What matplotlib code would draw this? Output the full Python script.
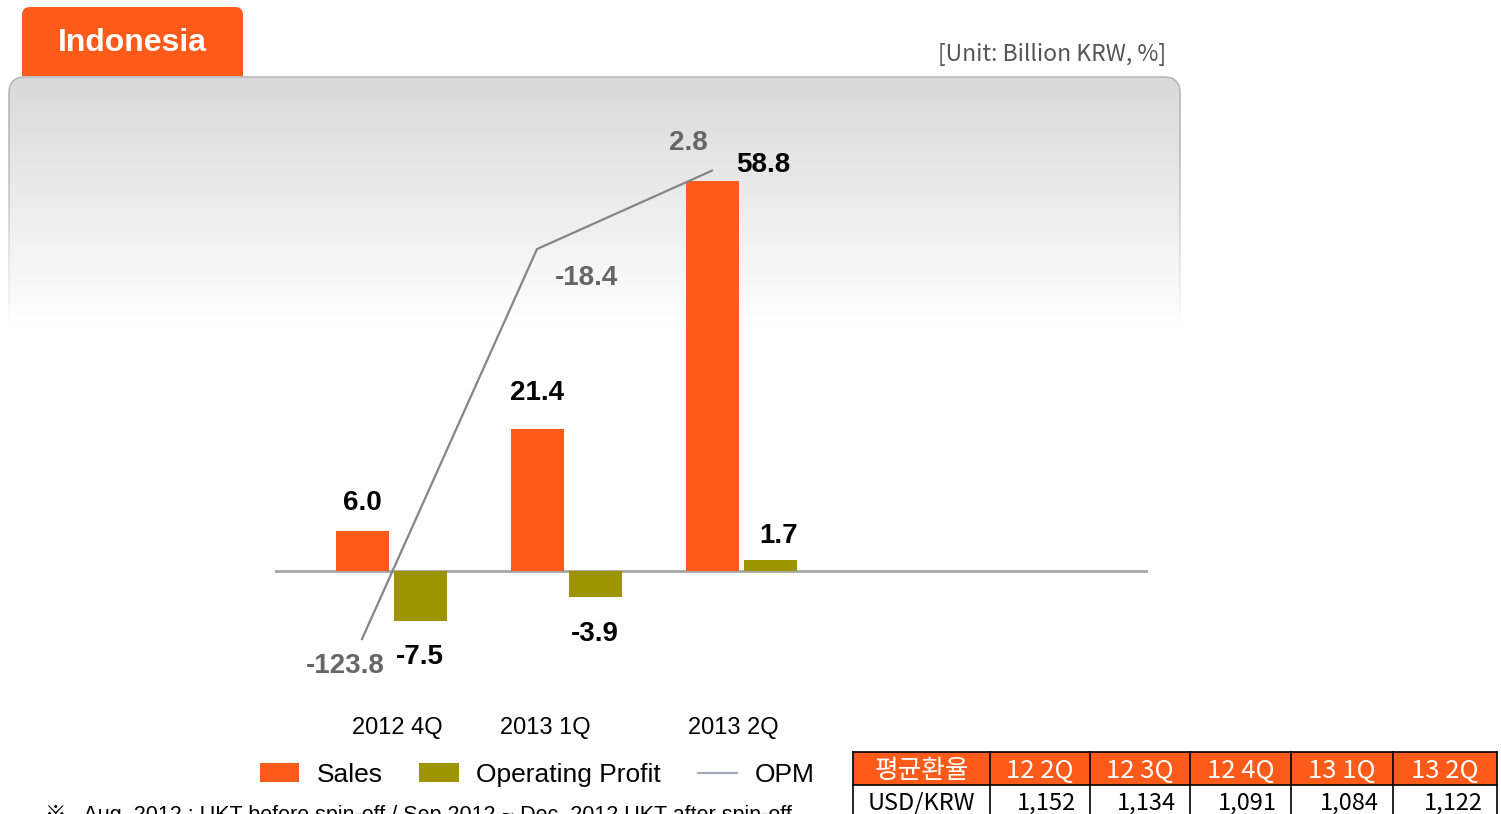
import numpy as np
import matplotlib
matplotlib.use('Agg')
from matplotlib import pyplot as plt
from matplotlib.patches import FancyBboxPatch, Rectangle, Patch
from matplotlib.lines import Line2D
from matplotlib.collections import LineCollection

# data
quarters = ['2012 4Q', '2013 1Q', '2013 2Q']
sales = [6.0, 21.4, 58.8]
op_profit = [-7.5, -3.9, 1.7]
opm = [-123.8, -18.4, 2.8]

table_header = ['평균환율', '12 2Q', '12 3Q', '12 4Q', '13 1Q', '13 2Q']
table_row = ['USD/KRW', '1,152', '1,134', '1,091', '1,084', '1,122']

orange = '#FE5A19'
olive = '#9D9400'
W, H = 1501, 814
fig = plt.figure(figsize=(W / 100, H / 100), dpi=100)

# background / decoration layer in pixel coords
bg = fig.add_axes([0, 0, 1, 1])
bg.set_xlim(0, W)
bg.set_ylim(H, 0)
bg.axis('off')

# panel with grey gradient on top
panel = FancyBboxPatch((9, 77), 1171, 700, boxstyle='round,pad=0,rounding_size=16',
                       facecolor='none', edgecolor='none')
bg.add_patch(panel)
grad = np.linspace(0, 1, 256)[:, None]
vals = 0.85 + 0.15 * grad
img = np.dstack([vals, vals, vals, np.ones_like(vals)])
im = bg.imshow(np.repeat(img, 2, axis=1), extent=(9, 1180, 325, 77), aspect='auto',
               interpolation='bilinear', zorder=0)
im.set_clip_path(panel)
bg.add_patch(Rectangle((0, 325), 1190, 500, facecolor='white', edgecolor='none', zorder=0.5))

# border: rounded top, sides fading downward
edge = FancyBboxPatch((9, 77), 1171, 700, boxstyle='round,pad=0,rounding_size=16',
                      facecolor='none', edgecolor='#b8b8b8', linewidth=1.2, zorder=1)
bg.add_patch(edge)
edge.set_clip_path(Rectangle((0, 70), 1200, 70, transform=bg.transData))
ys = np.linspace(140, 330, 40)
for xe in (9, 1180):
    segs = [[(xe, ys[j]), (xe, ys[j + 1])] for j in range(len(ys) - 1)]
    alphas = np.linspace(1, 0, len(segs))
    cols = [(0.72, 0.72, 0.72, a) for a in alphas]
    bg.add_collection(LineCollection(segs, colors=cols, linewidths=1.2, zorder=1))

# header tab
bg.add_patch(FancyBboxPatch((22, 7), 221, 68, boxstyle='round,pad=0,rounding_size=8',
                            facecolor=orange, edgecolor='none', zorder=2))
bg.add_patch(Rectangle((22, 40), 221, 36, facecolor=orange, edgecolor='none', zorder=2))
bg.text(132, 43, 'Indonesia', color='white', fontsize=23, fontweight='bold',
        family='Liberation Sans', ha='center', va='center', zorder=3)
bg.text(1166, 55, '[Unit: Billion KRW, %]', color='#555555', fontsize=16.5,
        family='Noto Sans CJK KR', ha='right', va='center', zorder=3)

# table
col_edges = [853, 990, 1090, 1190, 1291, 1393, 1497]
row_edges = [752, 785, 822]
bg.add_patch(Rectangle((col_edges[0], row_edges[0]), col_edges[-1] - col_edges[0],
                       row_edges[1] - row_edges[0], facecolor=orange, edgecolor='none', zorder=2))
for x in col_edges:
    bg.plot([x, x], [row_edges[0], row_edges[-1]], color='black', lw=1.2, zorder=3)
for y in row_edges:
    bg.plot([col_edges[0], col_edges[-1]], [y, y], color='black', lw=1.2, zorder=3)
for i in range(len(table_header)):
    cx = (col_edges[i] + col_edges[i + 1]) / 2
    bg.text(cx, 771, table_header[i], color='white', fontsize=18.5, family='Noto Sans CJK KR',
            ha='center', va='center', zorder=4)
    if i == 0:
        bg.text(col_edges[0] + 15, 803, table_row[i], color='black', fontsize=17,
                family='Noto Sans CJK KR', ha='left', va='center', zorder=4)
    else:
        bg.text(col_edges[i + 1] - 14, 803, table_row[i], color='black', fontsize=17,
                family='Noto Sans CJK KR', ha='right', va='center', zorder=4)

# footnote (cut off at bottom edge, as in the source slide)
bg.text(45, 805, '※   Aug. 2012 : UKT before spin-off / Sep.2012 ~ Dec. 2012 UKT after spin-off',
        fontsize=15.5, family=['Liberation Sans', 'Noto Sans CJK KR'], ha='left', va='top',
        color='black', zorder=4)

# main chart axes: zero at y=571px, 6.63 px per unit
top_px, bot_px = 120, 700
left_px, right_px = 275, 1148
ax = fig.add_axes([left_px / W, (H - bot_px) / H, (right_px - left_px) / W, (bot_px - top_px) / H])
ax.patch.set_alpha(0)
k_bar = 6.63
ax.set_ylim(-(bot_px - 571) / k_bar, (571 - top_px) / k_bar)
unit = 175.0
ax.set_xlim(-(391 - left_px) / unit, (right_px - 391) / unit)
for s in ax.spines.values():
    s.set_visible(False)
ax.set_yticks([])

x = np.arange(len(quarters))
bw = 53 / unit
off = 29 / unit
ax.bar(x - off, sales, bw, color=orange, zorder=2)
ax.bar(x + off, op_profit, bw, color=olive, zorder=2)
ax.axhline(0, color='#a6a6a6', lw=2, zorder=1)

label_shift = np.array([6, -21, -8]) / unit
ax.set_xticks(x + label_shift)
ax.set_xticklabels(quarters, fontsize=17, family='Liberation Sans')
ax.tick_params(axis='x', length=0, pad=12)

lab_font = dict(fontsize=20, fontweight='bold', family='Liberation Sans')
sales_off = [(0, 28), (0, 36), (51, 16)]
op_off = [(0, -36), (0, -37), (9, 24)]
for i in range(len(quarters)):
    ax.annotate(f'{sales[i]:.1f}', (x[i] - off, sales[i]), xytext=sales_off[i],
                textcoords='offset pixels', ha='center', va='center', color='black', **lab_font)
    ax.annotate(f'{op_profit[i]:.1f}', (x[i] + off, op_profit[i]), xytext=op_off[i],
                textcoords='offset pixels', ha='center', va='center', color='black', **lab_font)

# OPM on secondary axis: zero at y=181px, 3.7 px per unit
ax2 = ax.twinx()
ax2.patch.set_alpha(0)
k_opm = 3.7
ax2.set_ylim(-(bot_px - 181) / k_opm, (181 - top_px) / k_opm)
for s in ax2.spines.values():
    s.set_visible(False)
ax2.set_yticks([])
ax2.plot(x - off, opm, color='#858585', lw=1.6, zorder=3)
opm_off = [(-17, -27), (49, -29), (-24, 28)]
for i in range(len(quarters)):
    ax2.annotate(f'{opm[i]:.1f}', (x[i] - off, opm[i]), xytext=opm_off[i],
                 textcoords='offset pixels', ha='center', va='center', color='#666666',
                 **lab_font)

# legend
handles = [Patch(facecolor=orange, edgecolor='none'),
           Patch(facecolor=olive, edgecolor='none'),
           Line2D([], [], color='#a3abba', lw=1.6)]
fig.legend(handles, ['Sales', 'Operating Profit', 'OPM'], loc='center',
           bbox_to_anchor=(537 / W, (H - 775) / H), ncol=3, frameon=False,
           prop={'family': 'Liberation Sans', 'size': 19}, handlelength=1.5,
           handleheight=0.75, handletextpad=0.65, columnspacing=1.4)

fig.savefig('out.png', dpi=100)
